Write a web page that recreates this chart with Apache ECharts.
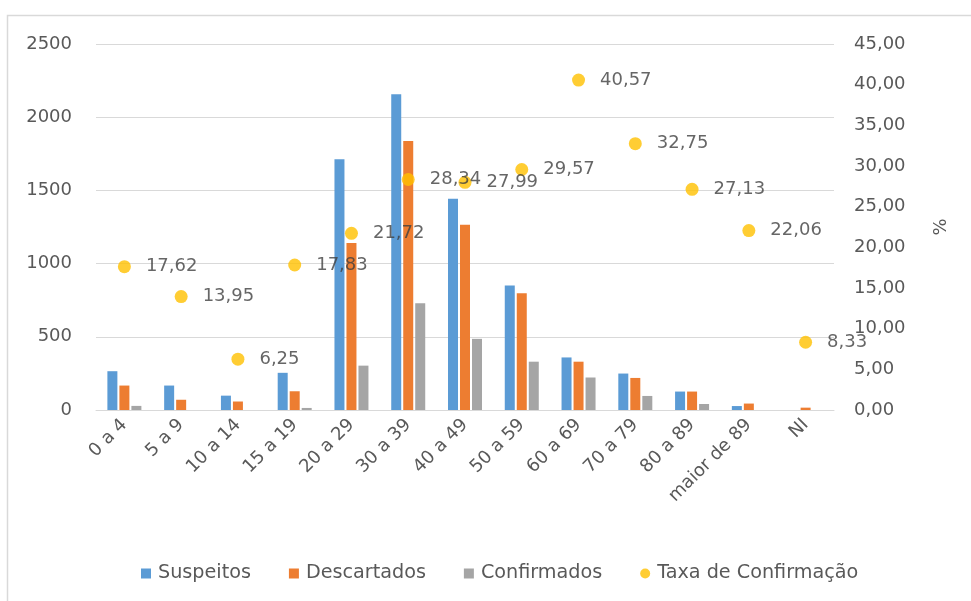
<!DOCTYPE html>
<html>
<head>
<meta charset="utf-8">
<script src="https://cdn.jsdelivr.net/npm/echarts@6/dist/echarts.min.js"></script>
<style>
  html, body { margin: 0; padding: 0; background: #ffffff; overflow: hidden; }
  #chart { width: 971px; height: 601px; }
</style>
</head>
<body>
<div id="chart"></div>
<script>
// Faixas etárias
const categories = ['0 a 4', '5 a 9', '10 a 14', '15 a 19', '20 a 29', '30 a 39', '40 a 49',
  '50 a 59', '60 a 69', '70 a 79', '80 a 89', 'maior de 89', 'NI'];

// Casos por faixa etária
const suspeitos   = [265, 167, 98, 254, 1712, 2157, 1443, 850, 359, 249, 126, 27, 0];
const descartados = [167, 70, 58, 128, 1140, 1838, 1265, 798, 330, 219, 126, 44, 16];
const confirmados = [28, 0, 0, 14, 303, 730, 486, 330, 222, 96, 41, 0, 0];

// Taxa de confirmação (%)
const taxa = [17.62, 13.95, 6.25, 17.83, 21.72, 28.34, 27.99, 29.57, 40.57, 32.75, 27.13, 22.06, 8.33];

const FONT = 'DejaVu Sans';
const TEXT = '#595959';
const GRID = '#d9d9d9';
const comma = v => Number(v).toFixed(2).replace('.', ',');

const chart = echarts.init(document.getElementById('chart'), null, { renderer: 'canvas' });

const barSeries = (name, data, color) => ({
  name,
  type: 'bar',
  data,
  yAxisIndex: 0,
  barWidth: 10,
  barGap: '20%',
  itemStyle: { color },
  z: 2
});

chart.setOption({
  animation: false,
  backgroundColor: '#ffffff',
  textStyle: { fontFamily: FONT },
  // chart frame: top and left edges
  graphic: [{
    type: 'polyline',
    silent: true,
    shape: { points: [[7.5, 601], [7.5, 15.5], [971, 15.5]] },
    style: { fill: 'none', stroke: GRID, lineWidth: 1.5 }
  }],
  grid: { left: 96, right: 137, top: 44, bottom: 191 },
  legend: {
    left: 136,
    top: 559,
    itemWidth: 10,
    itemHeight: 10,
    itemGap: 38,
    textStyle: { fontFamily: FONT, fontSize: 19.2, color: TEXT, padding: [0, 0, 0, 2] },
    data: [
      { name: 'Suspeitos', icon: 'rect' },
      { name: 'Descartados', icon: 'rect' },
      { name: 'Confirmados', icon: 'rect' },
      { name: 'Taxa de Confirmação', icon: 'circle' }
    ]
  },
  xAxis: {
    type: 'category',
    data: categories,
    axisLine: { lineStyle: { color: GRID, width: 1 } },
    axisTick: { show: false },
    axisLabel: {
      rotate: 45,
      margin: 12,
      interval: 0,
      fontFamily: FONT,
      fontSize: 18,
      color: TEXT
    }
  },
  yAxis: [{
    type: 'value',
    min: 0,
    max: 2500,
    interval: 500,
    axisLine: { show: false },
    axisTick: { show: false },
    splitLine: { lineStyle: { color: GRID, width: 1 } },
    axisLabel: {
      margin: 24,
      fontFamily: FONT,
      fontSize: 18,
      color: TEXT,
      formatter: v => String(v)
    }
  }, {
    type: 'value',
    min: 0,
    max: 45,
    interval: 5,
    name: '%',
    nameLocation: 'middle',
    nameGap: 98,
    nameRotate: 90,
    nameTextStyle: { fontFamily: FONT, fontSize: 18, color: TEXT },
    axisLine: { show: false },
    axisTick: { show: false },
    splitLine: { show: false },
    axisLabel: {
      margin: 20,
      fontFamily: FONT,
      fontSize: 18,
      color: TEXT,
      formatter: v => comma(v)
    }
  }],
  series: [
    barSeries('Suspeitos', suspeitos, '#5B9BD5'),
    barSeries('Descartados', descartados, '#ED7D31'),
    barSeries('Confirmados', confirmados, '#A5A5A5'),
    {
      name: 'Taxa de Confirmação',
      type: 'scatter',
      yAxisIndex: 1,
      data: taxa,
      symbol: 'circle',
      symbolSize: 13,
      itemStyle: { color: '#FFC000' },
      z: 5,
      label: {
        show: true,
        position: 'right',
        distance: 15,
        fontFamily: FONT,
        fontSize: 18,
        color: '#404040',
        formatter: p => comma(p.value)
      }
    }
  ]
});
</script>
</body>
</html>
